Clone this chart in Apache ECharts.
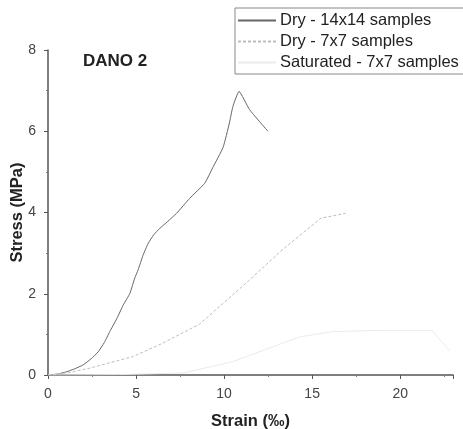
<!DOCTYPE html>
<html><head><meta charset="utf-8">
<script src="https://cdn.jsdelivr.net/npm/echarts@6/dist/echarts.min.js"></script>
<style>html,body{margin:0;padding:0;background:#fff}#c{width:463px;height:429px}</style>
</head><body><div id="c"></div>
<script>
var seriesNames = ['Dry - 14x14 samples', 'Dry - 7x7 samples', 'Saturated - 7x7 samples'];
var dry14Strain = [0, 0.5, 1.06, 1.5, 2.0, 2.45, 2.85, 3.2, 3.51, 3.9, 4.27, 4.65, 4.93, 5.12, 5.4, 5.69, 6.0, 6.35, 6.8, 7.3, 8.05, 8.9, 9.35, 9.94, 10.3, 10.5, 10.85, 11.45, 12.49];
var dry14Stress = [0, 0.02, 0.08, 0.15, 0.25, 0.4, 0.57, 0.8, 1.07, 1.38, 1.72, 2.01, 2.39, 2.59, 2.95, 3.24, 3.45, 3.61, 3.78, 3.98, 4.35, 4.72, 5.1, 5.6, 6.2, 6.61, 6.98, 6.53, 6.0];
var dry7Strain = [0, 1.2, 2.38, 4.8, 6.5, 8.6, 11.45, 13.3, 15.5, 16.9];
var dry7Stress = [0, 0.06, 0.17, 0.45, 0.78, 1.25, 2.34, 3.08, 3.86, 3.98];
var satStrain = [0, 4, 7.7, 10.5, 14.3, 16.2, 19, 21.8, 22.8];
var satStress = [0, 0.01, 0.05, 0.33, 0.94, 1.07, 1.1, 1.1, 0.6];
var xTicks = [0, 5, 10, 15, 20];
var yTicks = [0, 2, 4, 6, 8];

function pairs(a, b) { return a.map(function (v, i) { return [v, b[i]]; }); }
var chart = echarts.init(document.getElementById('c'), null, {renderer: 'canvas'});
var fam = 'Liberation Sans, Arial, sans-serif';
chart.setOption({
  animation: false,
  backgroundColor: '#fff',
  title: {text: 'DANO 2', left: 78, top: 48, textStyle: {fontFamily: fam, fontSize: 17, fontWeight: 'bold', color: '#222'}},
  legend: {
    orient: 'vertical', left: 235, top: 8, itemWidth: 38, itemHeight: 10, itemGap: 4,
    borderColor: '#888', borderWidth: 1, padding: [4, 8, 3, 2],
    itemStyle: {opacity: 0},
    textStyle: {fontFamily: fam, fontSize: 16.5, color: '#222', padding: [0, 0, 0, -1]},
    data: seriesNames
  },
  grid: {left: 48, top: 50, right: 10, bottom: 54, containLabel: false, outerBoundsMode: 'none'},
  xAxis: {
    type: 'value', min: 0, max: 23, interval: 5,
    name: 'Strain (‰)', nameLocation: 'middle', nameGap: 38, nameMoveOverlap: false,
    nameTextStyle: {fontFamily: fam, fontSize: 16.5, fontWeight: 'bold', color: '#222'},
    axisLine: {show: true, lineStyle: {color: '#555', width: 1.5}},
    axisTick: {show: true, inside: false, length: 4, lineStyle: {color: '#555'}},
    minorTick: {show: true, splitNumber: 2, length: 2, lineStyle: {color: '#777'}},
    axisLabel: {fontFamily: fam, fontSize: 14, color: '#444', margin: 12, customValues: xTicks},
    splitLine: {show: false}
  },
  yAxis: {
    type: 'value', min: 0, max: 8, interval: 2,
    name: 'Stress (MPa)', nameLocation: 'middle', nameGap: 22, nameMoveOverlap: false,
    nameTextStyle: {fontFamily: fam, fontSize: 16.5, fontWeight: 'bold', color: '#222'},
    axisLine: {show: true, lineStyle: {color: '#555', width: 1.5}},
    axisTick: {show: true, inside: false, length: 4, lineStyle: {color: '#555'}},
    minorTick: {show: true, splitNumber: 2, length: 2, lineStyle: {color: '#777'}},
    axisLabel: {fontFamily: fam, fontSize: 14, color: '#444', margin: 12, customValues: yTicks},
    splitLine: {show: false}
  },
  series: [
    {name: seriesNames[0], type: 'line', data: pairs(dry14Strain, dry14Stress), symbol: 'none', smooth: 0.15, lineStyle: {color: '#666', width: 1}, itemStyle: {color: '#666'}},
    {name: seriesNames[1], type: 'line', data: pairs(dry7Strain, dry7Stress), symbol: 'none', lineStyle: {color: '#bdbdbd', width: 1, type: [3, 2]}, itemStyle: {color: '#bdbdbd'}},
    {name: seriesNames[2], type: 'line', data: pairs(satStrain, satStress), symbol: 'none', lineStyle: {color: '#ebebeb', width: 1}, itemStyle: {color: '#ebebeb'}}
  ]
});
</script></body></html>
